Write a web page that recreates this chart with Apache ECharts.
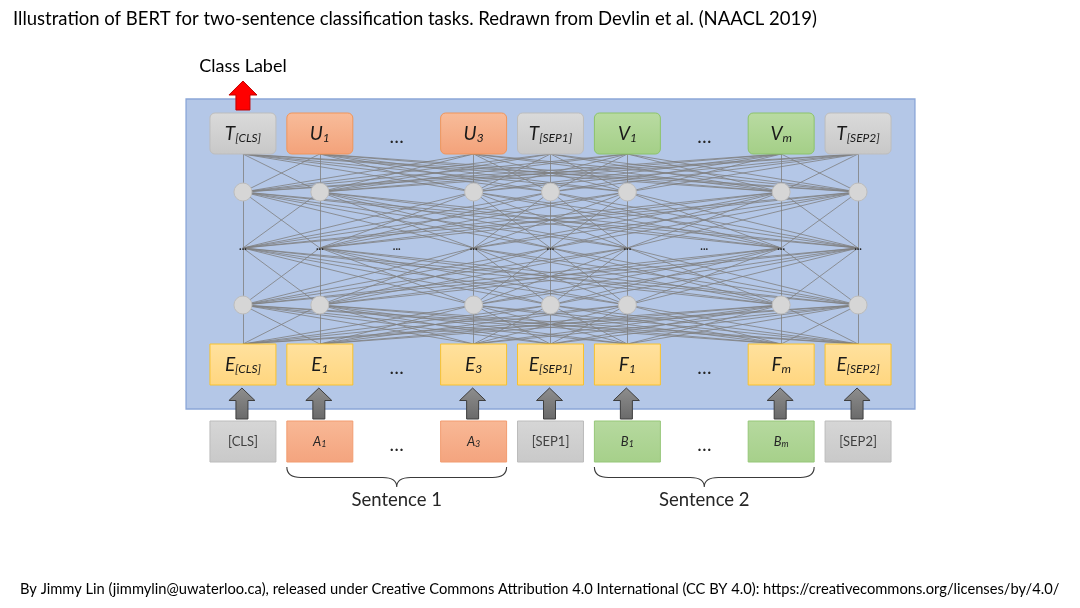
<!DOCTYPE html>
<html><head><meta charset="utf-8">
<script src="https://cdn.jsdelivr.net/npm/echarts@6/dist/echarts.min.js"></script>
<style>html,body{margin:0;padding:0;background:#fff}#c{width:1080px;height:608px}</style>
</head><body><div id="c"></div>
<script>
// ---------------- data ----------------
const titleText = 'Illustration of BERT for two-sentence classification tasks. Redrawn from Devlin et al. (NAACL 2019)';
const creditText = 'By Jimmy Lin (jimmylin@uwaterloo.ca), released under Creative Commons Attribution 4.0 International (CC BY 4.0): https://creativecommons.org/licenses/by/4.0/';
const outputLabel = 'Class Label';
const tokenGroup = ['special','s1','gap','s1','special','s2','gap','s2','special'];
const outputBase = ['T','U','…','U','T','V','…','V','T'];
const outputSub  = ['[CLS]','1','','3','[SEP1]','1','','m','[SEP2]'];
const embedBase  = ['E','E','…','E','E','F','…','F','E'];
const embedSub   = ['[CLS]','1','','3','[SEP1]','1','','m','[SEP2]'];
const inputBase  = ['[CLS]','A','…','A','[SEP1]','B','…','B','[SEP2]'];
const inputSub   = ['','1','','3','','1','','m',''];
const hiddenLayers = ['nodes','ellipsis','nodes'];
const sentences = [{name:'Sentence 1', from:1, to:3},{name:'Sentence 2', from:5, to:7}];
const classColumn = 0;

// ---------------- layout ----------------
const F = 'Lato';
const BOX_HALF = 0.429;
const PANEL_PAD = 0.74;
const ROW = [ {top:113, bot:154, round:5}, {top:344, bot:385, round:0}, {top:421, bot:462, round:0} ];
const HIDDEN_Y = [192, 248, 305];
const PANEL = {top:99, bot:409};
const rowBase = [outputBase, embedBase, inputBase];
const rowSub = [outputSub, embedSub, inputSub];

const realCols = tokenGroup.map((g,i)=>g==='gap'?-1:i).filter(i=>i>=0);

function grad(a,b){ return new echarts.graphic.LinearGradient(0,0,0,1,[{offset:0,color:a},{offset:1,color:b}]); }
const BOX_STYLE = {
  0: { special:['#dadada','#c8c8c8','#bdbdbd'], s1:['#f8bc9a','#f3a27a','#f0955a'], s2:['#b9dba2','#a4cf87','#8cc36a'] },
  1: { special:['#ffe19e','#ffd67f','#f8c22e'], s1:['#ffe19e','#ffd67f','#f8c22e'], s2:['#ffe19e','#ffd67f','#f8c22e'] },
  2: { special:['#d6d6d6','#c9c9c9','#bcbcbc'], s1:['#f8b896','#f4a47e','#f29c70'], s2:['#b6d99f','#a6d08a','#96c779'] }
};

// connections between consecutive layers
const levels = [ROW[0].bot].concat(HIDDEN_Y, [ROW[1].top]);
const connections = [];
for (let l = 0; l < levels.length - 1; l++) {
  for (const i of realCols) for (const j of realCols) {
    connections.push({coords:[[i, levels[l]], [j, levels[l+1]]]});
  }
}
const nodeData = [];
hiddenLayers.forEach((k, l) => { if (k === 'nodes') realCols.forEach(i => nodeData.push([i, HIDDEN_Y[l]])); });
const ellipsisData = [];
hiddenLayers.forEach((k, l) => { if (k === 'ellipsis') tokenGroup.forEach((g,i) => ellipsisData.push([i, HIDDEN_Y[l]])); });

const boxData = [];
for (let r = 0; r < 3; r++) tokenGroup.forEach((g,i) => boxData.push([i, (ROW[r].top+ROW[r].bot)/2, r]));

function boxItem(params, api) {
  const col = api.value(0), r = api.value(2);
  const p1 = api.coord([col - BOX_HALF, ROW[r].top]);
  const p2 = api.coord([col + BOX_HALF, ROW[r].bot]);
  const g = tokenGroup[col];
  const base = rowBase[r][col], sub = rowSub[r][col];
  if (g === 'gap') {
    return {type:'text', style:{x:(p1[0]+p2[0])/2, y:(p1[1]+p2[1])/2 + 3, text:base, font:'19px '+F, fill:'#262626', align:'center', verticalAlign:'middle'}};
  }
  const st = BOX_STYLE[r][g];
  let text, rich;
  if (r < 2) {
    text = '{b|' + base + '}{s|' + sub + '}';
    rich = { b:{fontSize:19, fontStyle:'italic', fontFamily:F, fill:'#1a1a1a', lineHeight:22},
             s:{fontSize:12, fontStyle:'italic', fontFamily:F, fill:'#1a1a1a', lineHeight:13, verticalAlign:'bottom'} };
  } else if (g === 'special') {
    text = '{n|' + base + '}';
    rich = { n:{fontSize:13, fontFamily:F, fill:'#404040'} };
  } else {
    text = '{b|' + base + '}{s|' + sub + '}';
    rich = { b:{fontSize:13, fontStyle:'italic', fontFamily:F, fill:'#262626', lineHeight:15},
             s:{fontSize:9, fontStyle:'italic', fontFamily:F, fill:'#262626', lineHeight:9, verticalAlign:'bottom'} };
  }
  return {
    type:'rect',
    shape:{x:p1[0], y:p1[1], width:p2[0]-p1[0], height:p2[1]-p1[1], r:ROW[r].round},
    style:{fill:grad(st[0], st[1]), stroke:st[2], lineWidth:1},
    textContent:{style:{text:text, rich:rich, fill:'#1a1a1a', align:'center', verticalAlign:'middle'}},
    textConfig:{position:'inside', insideFill:'#1a1a1a', insideStroke:'transparent'}
  };
}

function arrowPoly(cx, yTop, yBase, yBot, hh, sh) {
  return [[cx, yTop],[cx+hh, yBase],[cx+sh, yBase],[cx+sh, yBot],[cx-sh, yBot],[cx-sh, yBase],[cx-hh, yBase]];
}

const option = {
  animation:false,
  title:[
    {text:titleText, left:13, top:10, padding:0, textStyle:{fontSize:18.5, fontWeight:'normal', fontFamily:F, color:'#000'}},
    {text:creditText, left:20, top:582, padding:0, textStyle:{fontSize:14.7, fontWeight:'normal', fontFamily:F, color:'#000'}}
  ],
  grid:{left:204.5, width:692, top:0, height:608},
  xAxis:{type:'value', min:-0.5, max:8.5, show:false},
  yAxis:{type:'value', inverse:true, min:0, max:608, show:false},
  series:[
    { type:'custom', name:'panel', z:1, silent:true, data:[[0,0]],
      renderItem:(p, api) => {
        const a = api.coord([-PANEL_PAD, PANEL.top]), b = api.coord([tokenGroup.length-1+PANEL_PAD, PANEL.bot]);
        return {type:'rect', shape:{x:a[0], y:a[1], width:b[0]-a[0], height:b[1]-a[1]}, style:{fill:'#b4c7e7', stroke:'#8aa6d8', lineWidth:1.3}};
      }},
    { type:'lines', name:'connections', coordinateSystem:'cartesian2d', z:2, silent:true, data:connections,
      lineStyle:{color:'#7f7f7f', width:0.8, opacity:1} },
    { type:'scatter', name:'nodes', z:3, silent:true, data:nodeData, symbolSize:18,
      itemStyle:{color:'#d6d6d6', borderColor:'#bdbdbd', borderWidth:1, opacity:1} },
    { type:'custom', name:'ellipsis', z:3, silent:true, data:ellipsisData,
      renderItem:(p, api) => {
        const c = api.coord([api.value(0), api.value(1)]);
        return {type:'text', style:{x:c[0], y:c[1]-2, text:'...', font:'bold 11px '+F, fill:'#262626', align:'center', verticalAlign:'middle'}};
      }},
    { type:'custom', name:'boxes', z:4, silent:true, data:boxData, renderItem:boxItem },
    { type:'custom', name:'inputArrows', z:5, silent:true, data:realCols.map(i=>[i, 0]),
      renderItem:(p, api) => {
        const cx = api.coord([api.value(0), 0])[0] - 1;
        const y = v => api.coord([0, v])[1];
        return {type:'polygon', shape:{points:arrowPoly(cx, y(388), y(400.5), y(419), 13, 6)},
          style:{fill:grad('#8e8e8e','#6a6a6a'), stroke:'#3f3f3f', lineWidth:1}};
      }},
    { type:'custom', name:'classArrow', z:5, silent:true, data:[[classColumn, 0]],
      renderItem:(p, api) => {
        const cx = api.coord([api.value(0), 0])[0];
        const y = v => api.coord([0, v])[1];
        return {type:'group', children:[
          {type:'polygon', shape:{points:arrowPoly(cx, y(81), y(95), y(110), 14, 7)}, style:{fill:'#ff0000', stroke:'#c00000', lineWidth:1}},
          {type:'text', style:{x:cx, y:y(66), text:outputLabel, font:'18px '+F, fill:'#000', align:'center', verticalAlign:'middle'}}
        ]};
      }},
    { type:'custom', name:'sentences', z:5, silent:true, data:sentences.map((s,k)=>[s.from, s.to, k]),
      renderItem:(p, api) => {
        const s = sentences[api.value(2)];
        const x1 = api.coord([s.from - BOX_HALF, 0])[0], x2 = api.coord([s.to + BOX_HALF, 0])[0];
        const xm = (x1 + x2) / 2;
        const y = v => api.coord([0, v])[1];
        const yT = y(467), yM = y(477.5), yP = y(487), r = 14;
        const d = `M${x1},${yT} Q${x1},${yM} ${x1+r},${yM} L${xm-r},${yM} Q${xm},${yM} ${xm},${yP} Q${xm},${yM} ${xm+r},${yM} L${x2-r},${yM} Q${x2},${yM} ${x2},${yT}`;
        return {type:'group', children:[
          {type:'path', shape:{pathData:d}, style:{fill:null, stroke:'#3a3a3a', lineWidth:1.1}},
          {type:'text', style:{x:xm, y:y(500), text:s.name, font:'18.5px '+F, fill:'#262626', align:'center', verticalAlign:'middle'}}
        ]};
      }}
  ]
};
const chart = echarts.init(document.getElementById('c'), null, {renderer:'canvas'});
chart.setOption(option);
</script></body></html>
